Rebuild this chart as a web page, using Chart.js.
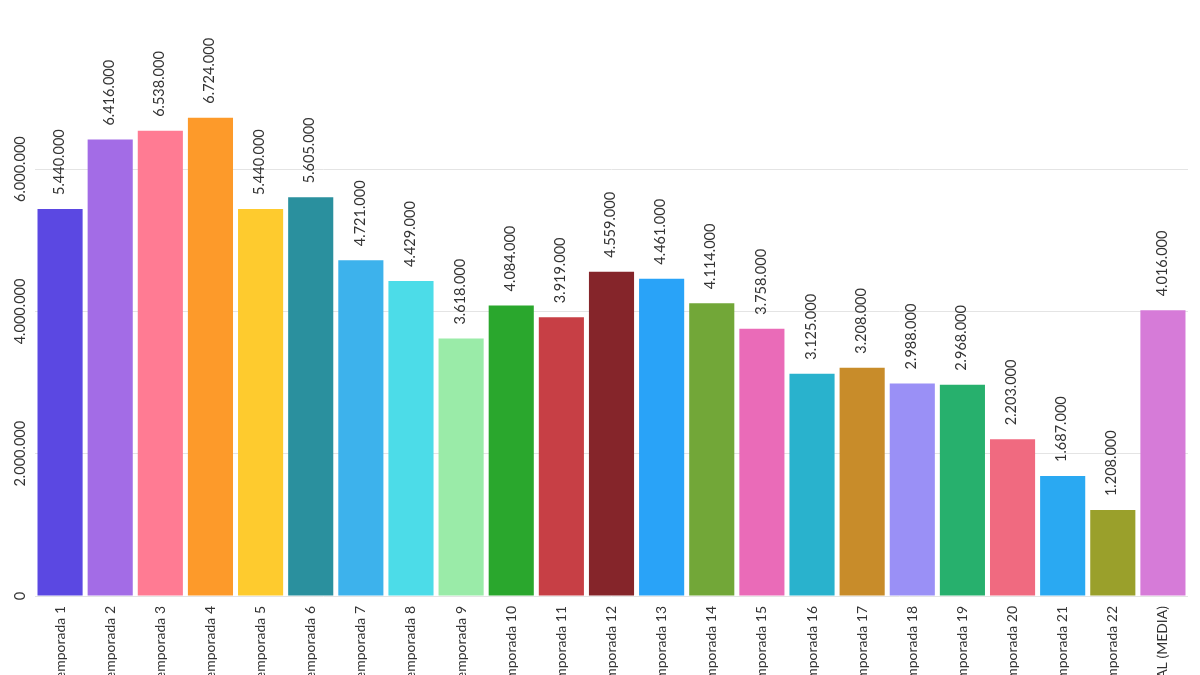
<!DOCTYPE html>
<html lang="es">
<head>
    <meta charset="UTF-8">
    <title>Temporadas</title>
    <script src="https://cdn.jsdelivr.net/npm/chart.js"></script>
    <style>
        html, body { margin: 0; padding: 0; background: #ffffff; overflow: hidden; }
        #wrap { width: 1200px; height: 675px; position: relative; }
    </style>
</head>
<body>
    <div id="wrap"><canvas id="chart"></canvas></div>

    <script>
        const labels = [
            "Temporada 1", "Temporada 2", "Temporada 3", "Temporada 4", "Temporada 5",
            "Temporada 6", "Temporada 7", "Temporada 8", "Temporada 9", "Temporada 10",
            "Temporada 11", "Temporada 12", "Temporada 13", "Temporada 14", "Temporada 15",
            "Temporada 16", "Temporada 17", "Temporada 18", "Temporada 19", "Temporada 20",
            "Temporada 21", "Temporada 22", "TOTAL (MEDIA)"
        ];
        const values = [
            5440000, 6416000, 6538000, 6724000, 5440000,
            5605000, 4721000, 4429000, 3618000, 4084000,
            3919000, 4559000, 4461000, 4114000, 3758000,
            3125000, 3208000, 2988000, 2968000, 2203000,
            1687000, 1208000, 4016000
        ];
        const barColors = [
            "#5b48e2", "#a36ce6", "#ff7b93", "#fd9a2a", "#fecb2e",
            "#2a909e", "#3db2ec", "#4cdce8", "#9aeba8", "#2aa72d",
            "#c73f45", "#85252a", "#29a3f8", "#72a738", "#ea6bb8",
            "#29b2cd", "#c88c2a", "#9a90f6", "#27b06d", "#f06a80",
            "#2aa9f2", "#9aa02b", "#d67bd8"
        ];
        const yTicks = [0, 2000000, 4000000, 6000000];

        const fontFamily = "Lato, 'Open Sans', sans-serif";
        const textColor = "#333333";

        // spanish style thousands: 6.000.000
        function fmt(v) {
            return String(Math.round(v)).replace(/\B(?=(\d{3})+(?!\d))/g, ".");
        }

        // value labels above bars, rotated
        const valueLabels = {
            id: "valueLabels",
            afterDatasetsDraw(chart) {
                const ctx = chart.ctx;
                const meta = chart.getDatasetMeta(0);
                ctx.save();
                ctx.font = "14.5px " + fontFamily;
                ctx.fillStyle = textColor;
                ctx.textAlign = "left";
                ctx.textBaseline = "middle";
                meta.data.forEach((bar, i) => {
                    ctx.save();
                    ctx.translate(bar.x - 1, bar.y - 14);
                    ctx.rotate(-Math.PI / 2);
                    ctx.fillText(fmt(values[i]), 0, 0);
                    ctx.restore();
                });
                ctx.restore();
            }
        };

        // rotated y tick labels centred on the grid lines
        const yLabels = {
            id: "yLabels",
            afterDraw(chart) {
                const ctx = chart.ctx;
                const y = chart.scales.y;
                ctx.save();
                ctx.font = "14.5px " + fontFamily;
                ctx.fillStyle = textColor;
                ctx.textAlign = "center";
                ctx.textBaseline = "middle";
                yTicks.forEach(v => {
                    ctx.save();
                    ctx.translate(20, y.getPixelForValue(v));
                    ctx.rotate(-Math.PI / 2);
                    ctx.fillText(fmt(v), 0, 0);
                    ctx.restore();
                });
                ctx.restore();
            }
        };

        new Chart(document.getElementById("chart"), {
            type: "bar",
            data: {
                labels: labels,
                datasets: [{
                    data: values,
                    backgroundColor: barColors,
                    borderWidth: 0,
                    barPercentage: 0.9,
                    categoryPercentage: 1.0
                }]
            },
            plugins: [valueLabels, yLabels],
            options: {
                responsive: true,
                maintainAspectRatio: false,
                animation: false,
                layout: { padding: { top: 98, right: 12, left: 0, bottom: 0 } },
                plugins: {
                    legend: { display: false },
                    tooltip: { enabled: false }
                },
                scales: {
                    x: {
                        grid: { display: false },
                        border: { display: false },
                        ticks: {
                            autoSkip: false,
                            minRotation: 90,
                            maxRotation: 90,
                            padding: 2,
                            color: textColor,
                            font: { family: fontFamily, size: 14 }
                        },
                        afterFit(scale) { scale.height = 79; }
                    },
                    y: {
                        min: 0,
                        max: 7000000,
                        border: { display: false },
                        grid: { color: "#e4e4e4", drawTicks: false },
                        ticks: { display: false },
                        afterBuildTicks(scale) {
                            scale.ticks = yTicks.map(v => ({ value: v }));
                        },
                        afterFit(scale) { scale.width = 35; }
                    }
                }
            }
        });
    </script>
</body>
</html>
